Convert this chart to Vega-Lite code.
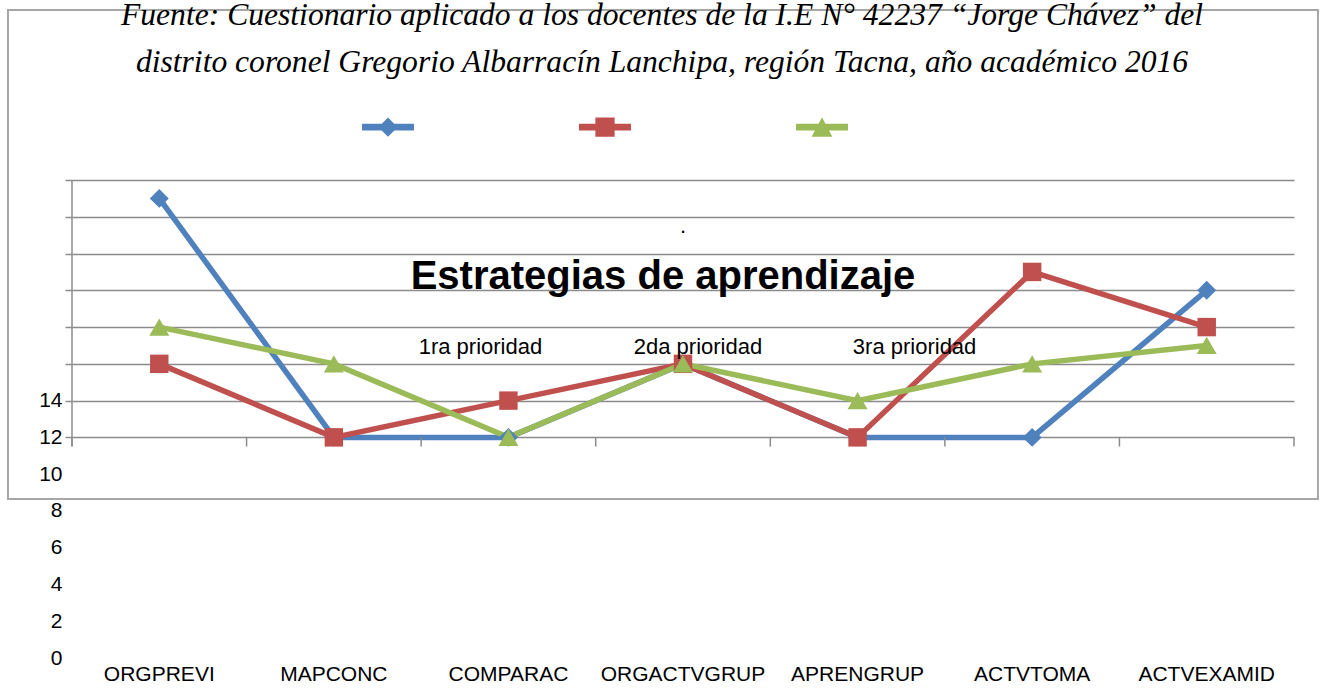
{
  "$schema": "https://vega.github.io/schema/vega-lite/v6.json",
  "width": 1222,
  "height": 478,
  "autosize": {"type": "none"},
  "padding": {"left": 72, "top": 180, "right": 30, "bottom": 41},
  "background": "white",
  "title": {
    "text": ["Fuente: Cuestionario aplicado a los docentes de la I.E N° 42237 “Jorge Chávez” del", "distrito coronel Gregorio Albarracín Lanchipa, región Tacna, año académico 2016"],
    "font": "Liberation Serif",
    "fontStyle": "italic",
    "fontWeight": "normal",
    "fontSize": 31.6,
    "color": "black",
    "lineHeight": 47,
    "anchor": "middle",
    "dx": -21,
    "offset": -70
  },
  "config": {
    "view": {"stroke": null},
    "text": {"font": "Liberation Sans, Arial, sans-serif"},
    "axisX": {
      "title": null,
      "domain": false,
      "ticks": false,
      "grid": false,
      "labelAngle": 0,
      "labelAlign": "center",
      "labelBaseline": "top",
      "labelOverlap": false,
      "labelFont": "Liberation Sans, Arial, sans-serif",
      "labelFontSize": 21,
      "labelColor": "black",
      "labelPadding": 5,
      "bandPosition": 0.5
    },
    "axisY": {
      "title": null,
      "labelOverlap": false,
      "domain": false,
      "ticks": true,
      "tickSize": 7,
      "tickColor": "#8c8c8c",
      "tickWidth": 1.5,
      "labelFont": "Liberation Sans, Arial, sans-serif",
      "labelFontSize": 21,
      "labelColor": "black",
      "labelPadding": 3
    }
  },
  "data": {
    "values": [
      {"cat": "ORGPREVI", "serie": "1ra prioridad", "valor": 25},
      {"cat": "MAPCONC", "serie": "1ra prioridad", "valor": 12},
      {"cat": "COMPARAC", "serie": "1ra prioridad", "valor": 12},
      {"cat": "ORGACTVGRUP", "serie": "1ra prioridad", "valor": 16},
      {"cat": "APRENGRUP", "serie": "1ra prioridad", "valor": 12},
      {"cat": "ACTVTOMA", "serie": "1ra prioridad", "valor": 12},
      {"cat": "ACTVEXAMID", "serie": "1ra prioridad", "valor": 20},
      {"cat": "ORGPREVI", "serie": "2da prioridad", "valor": 16},
      {"cat": "MAPCONC", "serie": "2da prioridad", "valor": 12},
      {"cat": "COMPARAC", "serie": "2da prioridad", "valor": 14},
      {"cat": "ORGACTVGRUP", "serie": "2da prioridad", "valor": 16},
      {"cat": "APRENGRUP", "serie": "2da prioridad", "valor": 12},
      {"cat": "ACTVTOMA", "serie": "2da prioridad", "valor": 21},
      {"cat": "ACTVEXAMID", "serie": "2da prioridad", "valor": 18},
      {"cat": "ORGPREVI", "serie": "3ra prioridad", "valor": 18},
      {"cat": "MAPCONC", "serie": "3ra prioridad", "valor": 16},
      {"cat": "COMPARAC", "serie": "3ra prioridad", "valor": 12},
      {"cat": "ORGACTVGRUP", "serie": "3ra prioridad", "valor": 16},
      {"cat": "APRENGRUP", "serie": "3ra prioridad", "valor": 14},
      {"cat": "ACTVTOMA", "serie": "3ra prioridad", "valor": 16},
      {"cat": "ACTVEXAMID", "serie": "3ra prioridad", "valor": 17}
    ]
  },
  "layer": [
    {
      "data": {"values": [{}]},
      "mark": {"type": "rect", "fill": null, "stroke": "#a6a6a6", "strokeWidth": 2},
      "encoding": {
        "x": {"datum": -0.0524, "type": "quantitative", "scale": {"domain": [0, 1], "nice": false, "zero": false}, "axis": null},
        "x2": {"datum": 1.0196},
        "y": {"datum": 8.65, "type": "quantitative", "scale": {"domain": [0, 26], "nice": false, "zero": false}, "axis": null},
        "y2": {"datum": 35.25}
      }
    },
    {
      "layer": [
        {
          "mark": {"type": "line", "strokeWidth": 5.5},
          "encoding": {
            "x": {"field": "cat", "type": "nominal", "sort": null, "scale": {"type": "band", "domain": ["ORGPREVI", "MAPCONC", "COMPARAC", "ORGACTVGRUP", "APRENGRUP", "ACTVTOMA", "ACTVEXAMID"], "paddingInner": 0, "paddingOuter": 0}, "axis": {"labelAlign": "center", "bandPosition": 0.5}},
            "y": {"field": "valor", "type": "quantitative", "scale": {"domain": [0, 26], "nice": false, "zero": true}, "axis": {"values": [0, 2, 4, 6, 8, 10, 12, 14, 16, 18, 20, 22, 24, 26], "labelExpr": "datum.value <= 14 ? datum.label : ''", "grid": true, "gridColor": "#8c8c8c", "gridWidth": 1.5, "gridOpacity": {"condition": {"test": "datum.value >= 12", "value": 1}, "value": 0}, "tickOpacity": {"condition": {"test": "datum.value >= 12", "value": 1}, "value": 0}}},
            "color": {
              "field": "serie",
              "type": "nominal",
              "scale": {"domain": ["1ra prioridad", "2da prioridad", "3ra prioridad"], "range": ["#4F81BD", "#C0504D", "#9BBB59"]},
              "legend": {
                "orient": "none",
                "legendX": 290,
                "legendY": -79,
                "direction": "horizontal",
                "title": null,
                "labelExpr": "''",
                "labelOffset": 0,
                "columnPadding": 165,
                "padding": 0,
                "symbolSize": 2704,
                "symbolStrokeWidth": 0,
                "symbolOpacity": 1,
                "encode": {
                  "symbols": {
                    "update": {
                      "shape": {"signal": "datum.value === '1ra prioridad' ? 'M-1,-0.13H1V0.13H-1Z M0,-0.37L0.37,0L0,0.37L-0.37,0Z' : datum.value === '2da prioridad' ? 'M-1,-0.13H1V0.13H-1Z M-0.37,-0.37H0.37V0.37H-0.37Z' : 'M-1,-0.13H1V0.13H-1Z M0,-0.38L0.4,0.37H-0.4Z'"},
                      "fill": {"signal": "datum.value === '1ra prioridad' ? '#4F81BD' : datum.value === '2da prioridad' ? '#C0504D' : '#9BBB59'"},
                      "stroke": {"value": "transparent"},
                      "strokeWidth": {"value": 0},
                      "size": {"value": 2704},
                      "opacity": {"value": 1}
                    }
                  }
                }
              }
            }
          }
        },
        {
          "transform": [{"filter": "datum.serie === '1ra prioridad'"}],
          "mark": {"type": "rule", "color": "#8c8c8c", "strokeWidth": 1.5},
          "encoding": {
            "x": {"field": "cat", "type": "nominal", "bandPosition": 0, "axis": {"labelAlign": "center", "bandPosition": 0.5}},
            "y": {"datum": 12, "type": "quantitative", "axis": {"values": [0, 2, 4, 6, 8, 10, 12, 14, 16, 18, 20, 22, 24, 26], "labelExpr": "datum.value <= 14 ? datum.label : ''", "grid": true, "gridColor": "#8c8c8c", "gridWidth": 1.5, "gridOpacity": {"condition": {"test": "datum.value >= 12", "value": 1}, "value": 0}, "tickOpacity": {"condition": {"test": "datum.value >= 12", "value": 1}, "value": 0}}},
            "y2": {"datum": 11.5}
          }
        },
        {
          "data": {"values": [{}]},
          "mark": {"type": "rule", "color": "#8c8c8c", "strokeWidth": 1.5},
          "encoding": {
            "x": {"datum": "ACTVEXAMID", "type": "nominal", "bandPosition": 1, "axis": {"labelAlign": "center", "bandPosition": 0.5}},
            "y": {"datum": 12, "type": "quantitative", "axis": {"values": [0, 2, 4, 6, 8, 10, 12, 14, 16, 18, 20, 22, 24, 26], "labelExpr": "datum.value <= 14 ? datum.label : ''", "grid": true, "gridColor": "#8c8c8c", "gridWidth": 1.5, "gridOpacity": {"condition": {"test": "datum.value >= 12", "value": 1}, "value": 0}, "tickOpacity": {"condition": {"test": "datum.value >= 12", "value": 1}, "value": 0}}},
            "y2": {"datum": 11.5}
          }
        },
        {
          "data": {"values": [{}]},
          "mark": {"type": "rule", "color": "#8c8c8c", "strokeWidth": 1.5},
          "encoding": {
            "x": {"datum": "ORGPREVI", "type": "nominal", "bandPosition": 0, "axis": {"labelAlign": "center", "bandPosition": 0.5}},
            "y": {"datum": 11.5, "type": "quantitative", "axis": {"values": [0, 2, 4, 6, 8, 10, 12, 14, 16, 18, 20, 22, 24, 26], "labelExpr": "datum.value <= 14 ? datum.label : ''", "grid": true, "gridColor": "#8c8c8c", "gridWidth": 1.5, "gridOpacity": {"condition": {"test": "datum.value >= 12", "value": 1}, "value": 0}, "tickOpacity": {"condition": {"test": "datum.value >= 12", "value": 1}, "value": 0}}},
            "y2": {"datum": 26}
          }
        },
        {
          "transform": [{"filter": "datum.serie === '1ra prioridad'"}],
          "mark": {"type": "point", "filled": true, "opacity": 1, "size": 360, "shape": "diamond"},
          "encoding": {
            "x": {"field": "cat", "type": "nominal", "axis": {"labelAlign": "center", "bandPosition": 0.5}},
            "y": {"field": "valor", "type": "quantitative", "axis": {"values": [0, 2, 4, 6, 8, 10, 12, 14, 16, 18, 20, 22, 24, 26], "labelExpr": "datum.value <= 14 ? datum.label : ''", "grid": true, "gridColor": "#8c8c8c", "gridWidth": 1.5, "gridOpacity": {"condition": {"test": "datum.value >= 12", "value": 1}, "value": 0}, "tickOpacity": {"condition": {"test": "datum.value >= 12", "value": 1}, "value": 0}}},
            "color": {"field": "serie", "type": "nominal"}
          }
        },
        {
          "transform": [{"filter": "datum.serie === '2da prioridad'"}],
          "mark": {"type": "point", "filled": true, "opacity": 1, "size": 340, "shape": "square"},
          "encoding": {
            "x": {"field": "cat", "type": "nominal", "axis": {"labelAlign": "center", "bandPosition": 0.5}},
            "y": {"field": "valor", "type": "quantitative", "axis": {"values": [0, 2, 4, 6, 8, 10, 12, 14, 16, 18, 20, 22, 24, 26], "labelExpr": "datum.value <= 14 ? datum.label : ''", "grid": true, "gridColor": "#8c8c8c", "gridWidth": 1.5, "gridOpacity": {"condition": {"test": "datum.value >= 12", "value": 1}, "value": 0}, "tickOpacity": {"condition": {"test": "datum.value >= 12", "value": 1}, "value": 0}}},
            "color": {"field": "serie", "type": "nominal"}
          }
        },
        {
          "transform": [{"filter": "datum.serie === '3ra prioridad'"}],
          "mark": {"type": "point", "filled": true, "opacity": 1, "size": 400, "shape": "triangle-up"},
          "encoding": {
            "x": {"field": "cat", "type": "nominal", "axis": {"labelAlign": "center", "bandPosition": 0.5}},
            "y": {"field": "valor", "type": "quantitative", "axis": {"values": [0, 2, 4, 6, 8, 10, 12, 14, 16, 18, 20, 22, 24, 26], "labelExpr": "datum.value <= 14 ? datum.label : ''", "grid": true, "gridColor": "#8c8c8c", "gridWidth": 1.5, "gridOpacity": {"condition": {"test": "datum.value >= 12", "value": 1}, "value": 0}, "tickOpacity": {"condition": {"test": "datum.value >= 12", "value": 1}, "value": 0}}},
            "color": {"field": "serie", "type": "nominal"}
          }
        },
        {
          "data": {"values": [{}]},
          "mark": {"type": "text", "text": "Estrategias de aprendizaje", "fontSize": 40, "fontWeight": "bold", "color": "black", "align": "center", "baseline": "middle", "dx": -20},
          "encoding": {
            "x": {"datum": "ORGACTVGRUP", "type": "nominal", "axis": {"labelAlign": "center", "bandPosition": 0.5}},
            "y": {"datum": 20.7, "type": "quantitative", "axis": {"values": [0, 2, 4, 6, 8, 10, 12, 14, 16, 18, 20, 22, 24, 26], "labelExpr": "datum.value <= 14 ? datum.label : ''", "grid": true, "gridColor": "#8c8c8c", "gridWidth": 1.5, "gridOpacity": {"condition": {"test": "datum.value >= 12", "value": 1}, "value": 0}, "tickOpacity": {"condition": {"test": "datum.value >= 12", "value": 1}, "value": 0}}}
          }
        },
        {
          "data": {"values": [{}]},
          "mark": {"type": "text", "text": ".", "fontSize": 22, "color": "black", "align": "center", "baseline": "alphabetic"},
          "encoding": {
            "x": {"datum": "ORGACTVGRUP", "type": "nominal", "axis": {"labelAlign": "center", "bandPosition": 0.5}},
            "y": {"datum": 23.1, "type": "quantitative", "axis": {"values": [0, 2, 4, 6, 8, 10, 12, 14, 16, 18, 20, 22, 24, 26], "labelExpr": "datum.value <= 14 ? datum.label : ''", "grid": true, "gridColor": "#8c8c8c", "gridWidth": 1.5, "gridOpacity": {"condition": {"test": "datum.value >= 12", "value": 1}, "value": 0}, "tickOpacity": {"condition": {"test": "datum.value >= 12", "value": 1}, "value": 0}}}
          }
        },
        {
          "data": {"values": [{}]},
          "mark": {"type": "text", "text": "1ra prioridad", "fontSize": 22, "color": "black", "align": "center", "baseline": "middle", "dx": -28},
          "encoding": {
            "x": {"datum": "COMPARAC", "type": "nominal", "axis": {"labelAlign": "center", "bandPosition": 0.5}},
            "y": {"datum": 16.9, "type": "quantitative", "axis": {"values": [0, 2, 4, 6, 8, 10, 12, 14, 16, 18, 20, 22, 24, 26], "labelExpr": "datum.value <= 14 ? datum.label : ''", "grid": true, "gridColor": "#8c8c8c", "gridWidth": 1.5, "gridOpacity": {"condition": {"test": "datum.value >= 12", "value": 1}, "value": 0}, "tickOpacity": {"condition": {"test": "datum.value >= 12", "value": 1}, "value": 0}}}
          }
        },
        {
          "data": {"values": [{}]},
          "mark": {"type": "text", "text": "2da prioridad", "fontSize": 22, "color": "black", "align": "center", "baseline": "middle", "dx": 15},
          "encoding": {
            "x": {"datum": "ORGACTVGRUP", "type": "nominal", "axis": {"labelAlign": "center", "bandPosition": 0.5}},
            "y": {"datum": 16.9, "type": "quantitative", "axis": {"values": [0, 2, 4, 6, 8, 10, 12, 14, 16, 18, 20, 22, 24, 26], "labelExpr": "datum.value <= 14 ? datum.label : ''", "grid": true, "gridColor": "#8c8c8c", "gridWidth": 1.5, "gridOpacity": {"condition": {"test": "datum.value >= 12", "value": 1}, "value": 0}, "tickOpacity": {"condition": {"test": "datum.value >= 12", "value": 1}, "value": 0}}}
          }
        },
        {
          "data": {"values": [{}]},
          "mark": {"type": "text", "text": "3ra prioridad", "fontSize": 22, "color": "black", "align": "center", "baseline": "middle", "dx": 57},
          "encoding": {
            "x": {"datum": "APRENGRUP", "type": "nominal", "axis": {"labelAlign": "center", "bandPosition": 0.5}},
            "y": {"datum": 16.9, "type": "quantitative", "axis": {"values": [0, 2, 4, 6, 8, 10, 12, 14, 16, 18, 20, 22, 24, 26], "labelExpr": "datum.value <= 14 ? datum.label : ''", "grid": true, "gridColor": "#8c8c8c", "gridWidth": 1.5, "gridOpacity": {"condition": {"test": "datum.value >= 12", "value": 1}, "value": 0}, "tickOpacity": {"condition": {"test": "datum.value >= 12", "value": 1}, "value": 0}}}
          }
        }
      ]
    }
  ],
  "resolve": {"scale": {"x": "independent", "y": "independent"}}
}
